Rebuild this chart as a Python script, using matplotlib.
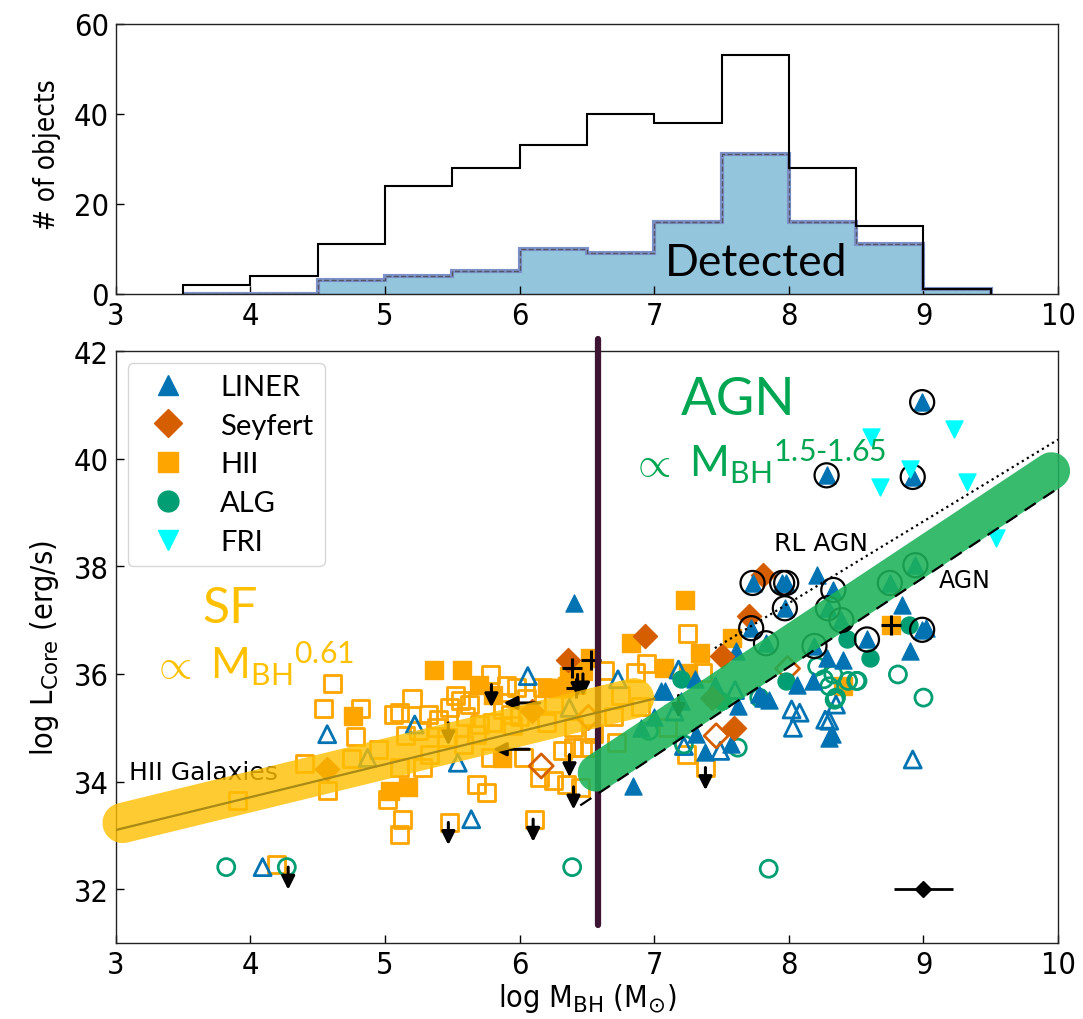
import numpy as np
import matplotlib
matplotlib.use('Agg')
import matplotlib.pyplot as plt
from matplotlib.lines import Line2D
from matplotlib.font_manager import FontProperties
from matplotlib import font_manager as fm

plt.rcParams['font.family'] = ['DejaVu Sans']
plt.rcParams['mathtext.fontset'] = 'dejavusans'
plt.rcParams['mathtext.rm'] = 'Lato'
plt.rcParams['mathtext.it'] = 'Lato:italic'
plt.rcParams['mathtext.bf'] = 'Lato:bold'

HAS_COND = any('condensed' in str(f.stretch).lower() and 'DejaVu Sans' == f.name for f in fm.fontManager.ttflist)

# ---------------- histogram data ----------------
bin_edges = [3.5, 4.0, 4.5, 5.0, 5.5, 6.0, 6.5, 7.0, 7.5, 8.0, 8.5, 9.0, 9.5]
n_total = [2, 4, 11, 24, 28, 33, 40, 38, 53, 28, 15, 1]
n_detected = [0, 0, 3, 4, 5, 10, 9, 16, 31, 16, 11, 1]

# ---------------- scatter data (log M_BH, log L_core) ----------------
liner_filled_m = [6.40, 6.84, 7.38, 7.57, 8.30, 8.21, 8.84, 8.90, 9.02, 8.40, 8.28, 8.18, 8.06, 8.32,
                  7.85, 7.62, 7.08, 7.81, 7.61, 7.31, 7.78, 7.05, 7.00, 7.20, 7.30, 6.90, 7.45]
liner_filled_l = [37.31, 33.92, 34.54, 34.69, 34.81, 37.84, 37.28, 36.42, 36.85, 36.26, 36.30, 35.87, 35.80, 34.88,
                  35.52, 35.40, 35.68, 35.56, 36.42, 34.88, 35.62, 35.69, 35.20, 35.50, 35.90, 35.00, 35.80]

liner_ring_m = [8.99, 8.28, 8.92, 7.73, 7.95, 7.98, 7.97, 7.72, 8.58, 8.99,
                8.33, 8.75, 8.94, 8.29, 8.39, 8.19, 7.83]
liner_ring_l = [41.05, 39.69, 39.66, 37.69, 37.69, 37.69, 37.22, 36.85, 36.64, 36.82,
                37.56, 37.69, 38.02, 37.22, 37.00, 36.52, 36.57]

liner_open_m = [4.57, 5.22, 6.06, 5.64, 4.09, 5.54, 4.87, 6.37, 6.73, 7.18, 8.03, 8.02, 8.08, 8.27,
                8.35, 8.92, 7.49, 7.22, 8.30, 7.15, 7.60]
liner_open_l = [34.88, 35.06, 35.96, 33.30, 32.41, 34.35, 34.44, 35.37, 35.90, 36.08, 35.00, 35.34, 35.28, 35.15,
                35.43, 34.41, 34.57, 34.66, 35.13, 35.30, 35.70]

seyfert_filled_m = [6.36, 6.09, 6.93, 7.50, 7.70, 7.81, 7.59, 4.57, 7.43]
seyfert_filled_l = [36.26, 35.31, 36.70, 36.33, 37.07, 37.84, 35.00, 34.23, 35.56]

seyfert_open_m = [6.16, 6.51, 7.99, 7.46]
seyfert_open_l = [34.29, 35.19, 36.10, 34.85]

hii_filled_m = [5.36, 5.57, 4.76, 5.04, 5.17, 5.70, 6.27, 6.42, 6.52, 5.87, 7.23, 6.83, 7.34, 7.07,
                7.25, 7.58, 6.37, 6.47, 6.35, 8.76, 8.40, 6.20, 6.32, 5.80]
hii_filled_l = [36.08, 36.08, 35.22, 33.83, 33.89, 35.80, 35.74, 35.80, 36.30, 34.44, 37.38, 36.57, 36.39, 36.11,
                36.02, 36.67, 35.96, 36.06, 35.78, 36.91, 35.78, 35.74, 35.74, 35.60]

hii_open_m = [4.61, 4.54, 4.82, 4.78, 4.40, 4.57, 4.75, 3.90, 5.06, 5.11, 5.32, 5.11, 5.13, 5.11,
              5.02, 5.48, 5.56, 5.63, 5.78, 5.90, 5.98, 6.17, 5.87, 5.70, 5.38, 5.46, 5.33, 5.28,
              5.58, 5.68, 5.78, 5.68, 5.75, 5.48, 5.93, 6.11, 6.32, 6.40, 6.47, 6.15, 6.25, 6.35,
              6.45, 6.52, 6.03, 4.19, 5.15, 5.25, 5.40, 5.60, 5.80, 6.00, 6.20, 6.40, 6.55,
              7.25, 6.94, 6.86, 7.24, 7.38, 6.75, 6.70, 6.90, 7.10, 6.63, 7.36, 6.72, 6.05, 6.25,
              5.95, 5.52, 5.20, 4.95]
hii_open_l = [35.83, 35.35, 35.35, 34.83, 34.33, 33.83, 34.43, 33.65, 35.25, 35.28, 35.25, 34.26, 33.30, 33.02,
              33.67, 35.37, 35.50, 35.43, 35.99, 35.78, 35.74, 35.74, 35.34, 35.06, 35.00, 34.81, 34.51, 34.26,
              34.69, 34.88, 34.44, 33.95, 33.80, 33.24, 35.25, 33.30, 34.57, 34.63, 34.63, 34.07, 34.02, 33.95,
              33.89, 34.63, 34.44, 32.45, 34.85, 34.95, 35.15, 35.20, 35.10, 35.20, 35.10, 35.00, 34.90,
              36.76, 36.20, 36.02, 34.51, 34.26, 35.60, 35.20, 35.40, 35.00, 36.06, 36.02, 34.72, 35.55, 35.45,
              35.05, 35.60, 35.55, 34.60]

alg_filled_m = [8.43, 8.60, 8.89, 7.98, 7.20, 7.50]
alg_filled_l = [36.64, 36.30, 36.91, 35.87, 35.90, 35.50]

alg_open_m = [3.82, 4.27, 6.39, 7.85, 8.81, 9.00, 8.21, 8.33, 8.30, 8.44, 8.51, 8.34, 7.62, 7.22,
              7.78, 8.35, 8.50, 6.96, 8.26]
alg_open_l = [32.41, 32.41, 32.41, 32.38, 35.99, 35.56, 36.14, 35.99, 35.77, 35.87, 35.87, 35.52, 34.63, 34.69,
              35.56, 35.56, 35.87, 34.94, 35.90]

fri_m = [9.23, 8.61, 8.68, 8.90, 9.32, 9.54]
fri_l = [40.56, 40.40, 39.48, 39.81, 39.57, 38.52]

uplim_m = [5.47, 6.10, 4.28, 5.79, 5.47, 6.43, 6.37, 6.40, 7.38, 6.47, 7.18]
uplim_l = [33.24, 33.30, 32.41, 35.80, 35.09, 35.99, 34.50, 33.90, 34.26, 36.00, 35.60]

leftlim_m = [6.15, 6.07]
leftlim_l = [35.46, 34.60]

plus_m = [6.39, 6.53, 6.42, 8.76]
plus_l = [36.11, 36.26, 35.74, 36.91]

err_m, err_l, err_x = [9.0], [32.0], [0.22]

# fits
sf_slope, sf_pivot_m, sf_pivot_l = 0.61, 3.0, 33.10
sf_band_range = [3.05, 6.85]
sf_line_range = [3.0, 7.0]
agn_band_slope, agn_band_pivot_m, agn_band_pivot_l = 1.66, 6.6, 34.21
agn_band_range = [6.57, 9.95]
rl_slope, rl_pivot_m, rl_pivot_l = 1.52, 7.51, 36.57
rl_range = [7.45, 10.0]
agn_slope, agn_pivot_m, agn_pivot_l = 1.66, 6.5, 33.64
agn_range = [6.45, 10.0]
divide_m = 6.58

C_LINER = '#0173b2'
C_SEY = '#d55e00'
C_HII = '#ffa500'
C_ALG = '#029e73'
C_FRI = '#00ffff'

lato = 'Lato'
tick_fp = FontProperties(family='DejaVu Sans', stretch='condensed' if HAS_COND else 'normal',
                         size=22 if HAS_COND else 19)
lab_size = 22 if HAS_COND else 19
lab_stretch = 'condensed' if HAS_COND else 'normal'

fig = plt.figure(figsize=(10.83, 10.20), dpi=100)
ax1 = fig.add_axes([0.107, 0.7108, 0.870, 0.2647])
ax2 = fig.add_axes([0.107, 0.0745, 0.870, 0.5804])

# ---------- top histogram ----------
ax1.stairs(n_detected, bin_edges, fill=True, color='#93c6dc', zorder=1)
ax1.stairs(n_detected, bin_edges, color='#7d92c9', lw=3, zorder=2)
ax1.stairs(n_detected, bin_edges, color='#555566', lw=1.0, ls='--', zorder=3)
ax1.stairs(n_total, bin_edges, color='k', lw=1.5, zorder=4)
ax1.set_xlim(3, 10)
ax1.set_ylim(0, 60)
ax1.set_yticks([0, 20, 40, 60])
ax1.set_xticks(range(3, 11))
ax1.text(7.76, 7.0, 'Detected', fontsize=32, family=lato, ha='center', va='center', zorder=5)
ax1.set_ylabel('# of objects', fontsize=lab_size - 2, fontstretch=lab_stretch)
ax1.yaxis.set_label_coords(-0.058, 0.52)

# ---------- bottom scatter ----------
def line_vals(slope, pm, pl, xs):
    xs = np.asarray(xs, dtype=float)
    return pl + slope * (xs - pm)

S = 150
ax2.scatter(hii_open_m, hii_open_l, marker='s', s=S, facecolors='none', edgecolors=C_HII, linewidths=2, zorder=3)
ax2.scatter(hii_filled_m, hii_filled_l, marker='s', s=S, color=C_HII, zorder=3)
ax2.scatter(liner_open_m, liner_open_l, marker='^', s=S, facecolors='none', edgecolors=C_LINER, linewidths=2, zorder=3)
ax2.scatter(alg_open_m, alg_open_l, marker='o', s=S, facecolors='none', edgecolors=C_ALG, linewidths=2, zorder=3)
ax2.scatter(seyfert_open_m, seyfert_open_l, marker='D', s=S, facecolors='none', edgecolors=C_SEY, linewidths=2, zorder=3)
ax2.scatter(alg_filled_m, alg_filled_l, marker='o', s=S, color=C_ALG, zorder=3)
ax2.scatter(liner_filled_m, liner_filled_l, marker='^', s=S, color=C_LINER, zorder=3)
ax2.scatter(seyfert_filled_m, seyfert_filled_l, marker='D', s=S, color=C_SEY, zorder=3)
ax2.scatter(liner_ring_m, liner_ring_l, marker='^', s=S, color=C_LINER, zorder=3)
ax2.scatter(liner_ring_m, liner_ring_l, marker='o', s=300, facecolors='none', edgecolors='k', linewidths=1.6, zorder=3)
ax2.scatter(fri_m, fri_l, marker='v', s=S, color=C_FRI, zorder=3)
ax2.scatter(plus_m, plus_l, marker='+', s=220, color='k', linewidths=2.2, zorder=4)

for m, l in zip(uplim_m, uplim_l):
    ax2.annotate('', xy=(m, l - 0.42), xytext=(m, l),
                 arrowprops=dict(arrowstyle='-|>', color='k', lw=2.2, mutation_scale=20, shrinkA=0, shrinkB=0),
                 zorder=4)
for m, l in zip(leftlim_m, leftlim_l):
    ax2.annotate('', xy=(m - 0.27, l), xytext=(m, l),
                 arrowprops=dict(arrowstyle='-|>', color='k', lw=2.2, mutation_scale=20, shrinkA=0, shrinkB=0),
                 zorder=4)

ax2.errorbar(err_m, err_l, xerr=err_x, fmt='D', color='k', ms=8, lw=2, zorder=4)

# vertical separator
ax2.plot([divide_m, divide_m], [31.33, 42.22], color='#3d1432', lw=4.5, solid_capstyle='round',
         clip_on=False, zorder=5)

# bands
xs = np.array(sf_band_range)
ax2.plot(xs, line_vals(sf_slope, sf_pivot_m, sf_pivot_l + 0.1, xs), color='#ffbf00', alpha=0.8, lw=29,
         solid_capstyle='round', clip_on=False, zorder=6)
xs = np.array(sf_line_range)
ax2.plot(xs, line_vals(sf_slope, sf_pivot_m, sf_pivot_l, xs), color='#a88a14', lw=1.6, zorder=7)

xs = np.array(agn_band_range)
ax2.plot(xs, line_vals(agn_band_slope, agn_band_pivot_m, agn_band_pivot_l, xs), color='#1db25a', alpha=0.88,
         lw=27, solid_capstyle='round', clip_on=False, zorder=6)

xs = np.array(rl_range)
ax2.plot(xs, line_vals(rl_slope, rl_pivot_m, rl_pivot_l, xs), color='k', lw=1.6, ls=':', zorder=7)
xs = np.array(agn_range)
ax2.plot(xs, line_vals(agn_slope, agn_pivot_m, agn_pivot_l, xs), color='k', lw=1.6, ls=(0, (6, 4)), zorder=7)

# texts
ax2.text(3.10, 34.17, 'HII Galaxies', fontsize=18, ha='left', va='center', zorder=2)
ax2.text(8.24, 38.43, 'RL AGN', fontsize=18, ha='center', va='center', zorder=8)
ax2.text(9.31, 37.74, 'AGN', fontsize=17, ha='center', va='center', zorder=8)

ax2.text(3.85, 37.22, 'SF', fontsize=36, family=lato, color='#ffc000', ha='center', va='center', zorder=8)
ax2.text(3.27, 35.93, r'$\propto\ {\mathrm{M}_{\mathrm{BH}}}^{0.61}$', fontsize=31, color='#ffc000',
         ha='left', va='baseline', math_fontfamily='custom', zorder=8)
ax2.text(7.62, 40.83, 'AGN', fontsize=38, family=lato, color='#00a651', ha='center', va='baseline', zorder=8)
ax2.text(6.83, 39.67, r'$\propto\ {\mathrm{M}_{\mathrm{BH}}}^{1.5\text{-}1.65}$', fontsize=31, color='#00a651',
         ha='left', va='baseline', math_fontfamily='custom', zorder=8)

ax2.set_xlim(3, 10)
ax2.set_ylim(31, 42)
ax2.set_xticks(range(3, 11))
ax2.set_yticks(range(32, 43, 2))
ax2.set_xlabel(r'log M$_{\rm BH}$ (M$_{\odot}$)', fontsize=lab_size, fontstretch=lab_stretch)
ax2.set_ylabel(r'log L$_{\rm Core}$ (erg/s)', fontsize=lab_size, fontstretch=lab_stretch)
ax2.xaxis.set_label_coords(0.5, -0.064)
ax2.yaxis.set_label_coords(-0.058, 0.5)

handles = [
    Line2D([], [], ls='none', marker='^', ms=15, color=C_LINER),
    Line2D([], [], ls='none', marker='D', ms=14, color=C_SEY),
    Line2D([], [], ls='none', marker='s', ms=14, color=C_HII),
    Line2D([], [], ls='none', marker='o', ms=15, color=C_ALG),
    Line2D([], [], ls='none', marker='v', ms=15, color=C_FRI),
]
leg = ax2.legend(handles, ['LINER', 'Seyfert', 'HII', 'ALG', 'FRI'], loc='upper left',
                 prop=FontProperties(family=lato, size=21), frameon=True, fancybox=True,
                 borderaxespad=0.4, handletextpad=0.8, labelspacing=0.44, borderpad=0.38,
                 handlelength=2.0)
leg.get_frame().set_edgecolor('#cccccc')
leg.set_zorder(9)

for ax in (ax1, ax2):
    ax.tick_params(direction='in', length=6, width=1, pad=5)
    for lab in ax.get_xticklabels() + ax.get_yticklabels():
        lab.set_fontproperties(tick_fp)
    for sp in ax.spines.values():
        sp.set_linewidth(1.0)
        sp.set_color('#222222')

fig.savefig('out.png', dpi=100)
